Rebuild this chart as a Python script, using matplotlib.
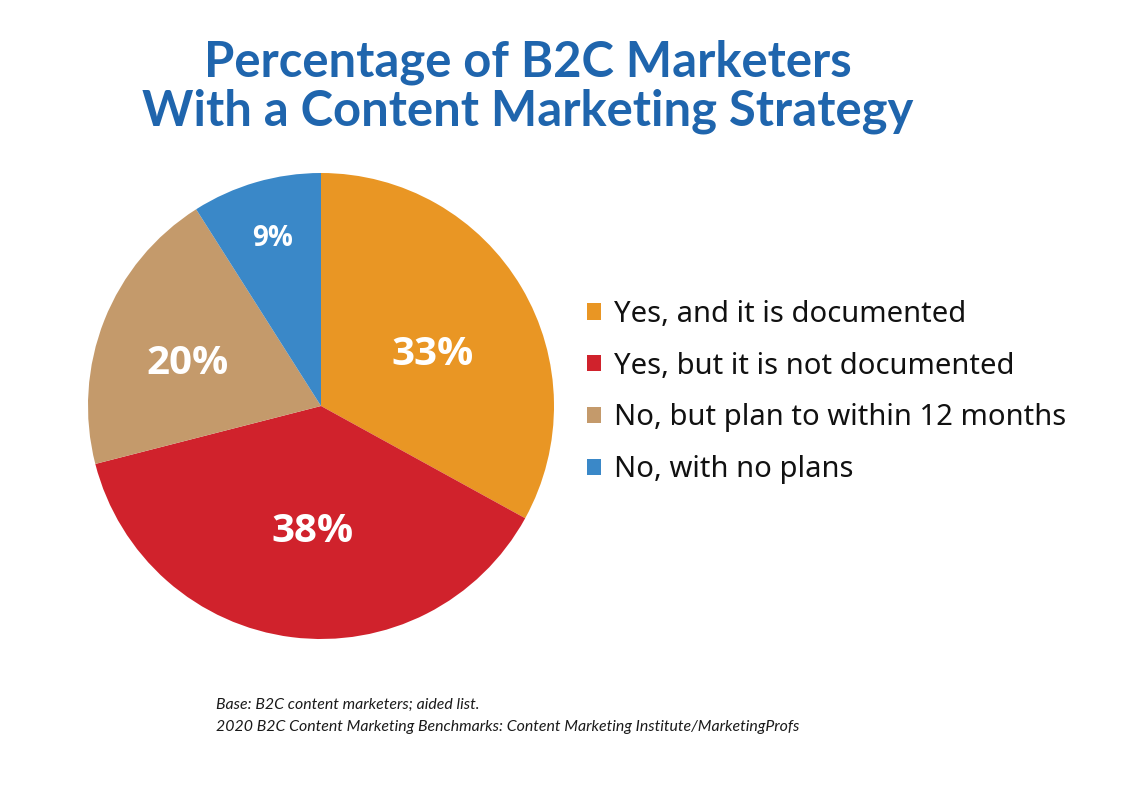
import matplotlib
matplotlib.use("Agg")
import matplotlib.pyplot as plt
import numpy as np

categories = ["Yes, and it is documented", "Yes, but it is not documented",
              "No, but plan to within 12 months", "No, with no plans"]
values = [33, 38, 20, 9]
pct_labels = ["33%", "38%", "20%", "9%"]
colors = ["#E99624", "#D0222C", "#C49A6B", "#3A88C8"]
title = "Percentage of B2C Marketers\nWith a Content Marketing Strategy"
notes = ["Base: B2C content marketers; aided list.",
         "2020 B2C Content Marketing Benchmarks: Content Marketing Institute/MarketingProfs"]

W, H = 1144, 794
fig = plt.figure(figsize=(W / 100, H / 100), dpi=100)
fig.patch.set_facecolor("white")

cx, cy, r = 321, 406, 233
ax = fig.add_axes([(cx - r) / W, (H - cy - r) / H, 2 * r / W, 2 * r / H])
wedges, _ = ax.pie(values, colors=colors, startangle=90, counterclock=False,
                   radius=1, wedgeprops=dict(linewidth=0))
ax.set_xlim(-1, 1)
ax.set_ylim(-1, 1)
ax.set_aspect("equal")
ax.axis("off")

label_dist = [0.53, 0.54, 0.6, 0.75]
label_size = [29, 29, 29, 20]
angle_shift = [-5.7, 3.5, 4, 0]
for w, lab, d, s, sh in zip(wedges, pct_labels, label_dist, label_size, angle_shift):
    ang = np.deg2rad((w.theta1 + w.theta2) / 2 + sh)
    ax.text(d * np.cos(ang), d * np.sin(ang), lab, ha="center", va="center",
            color="white", fontsize=s, fontweight="bold", family="Open Sans")

fig.text(0.461, 1 - 87 / H, title, ha="center", va="center", fontsize=35.3,
         fontweight="bold", color="#1F65AD", family="Lato", linespacing=1.1)

leg = fig.legend(wedges, categories, loc="center left",
                 bbox_to_anchor=(561 / W, 1 - 392 / H), frameon=False,
                 prop=dict(family="Noto Sans", size=21), handlelength=0.48,
                 handleheight=0.48, handletextpad=0.42, labelspacing=0.78)
for t in leg.get_texts():
    t.set_color("#111111")

fig.text(216 / W, 1 - 705 / H, notes[0], ha="left", va="center", fontsize=11.45,
         style="italic", family="Lato", color="#1a1a1a")
fig.text(216 / W, 1 - 727 / H, notes[1], ha="left", va="center", fontsize=11.45,
         style="italic", family="Lato", color="#1a1a1a")

fig.savefig("out.png", dpi=100, facecolor="white")
